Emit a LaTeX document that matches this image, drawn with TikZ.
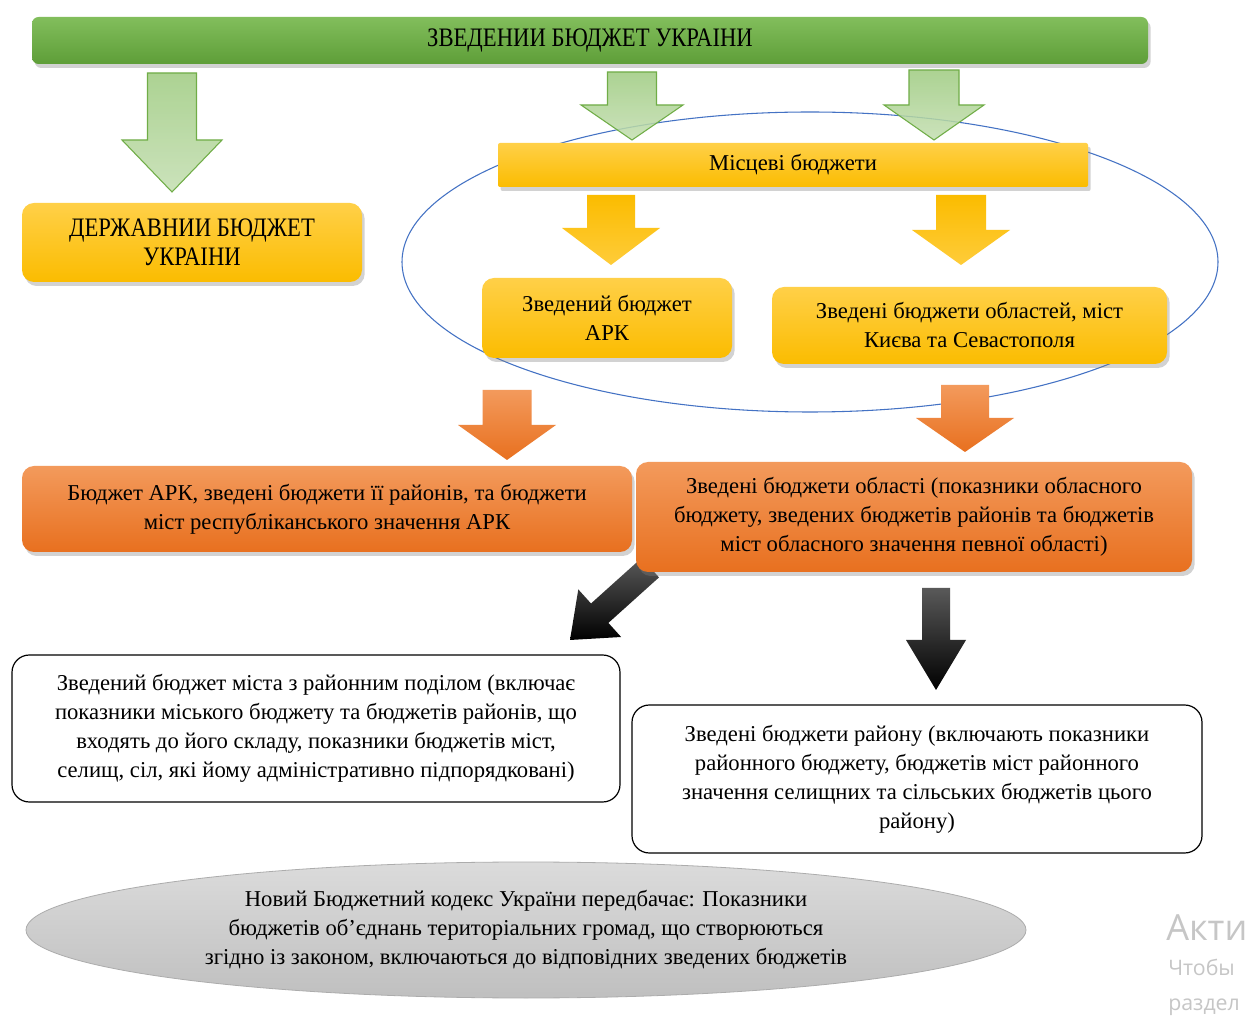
\documentclass[tikz,border=0pt]{standalone}
\usepackage{fontspec}
\setmainfont{Liberation Serif}
\newfontfamily\capsfont[FakeStretch=0.85]{Liberation Serif}
\newfontfamily\wmfont{Open Sans}
\usetikzlibrary{shadows,shapes.geometric}
\definecolor{gTop}{HTML}{82BE5C}
\definecolor{gBot}{HTML}{5E9E38}
\definecolor{gEdge}{HTML}{70AD47}
\definecolor{gA}{HTML}{9ECB80}
\definecolor{gB}{HTML}{C3DEB0}
\definecolor{yTop}{HTML}{FFD048}
\definecolor{yBot}{HTML}{FBBC00}
\definecolor{oTop}{HTML}{F39A5C}
\definecolor{oBot}{HTML}{E8701F}
\definecolor{blueE}{HTML}{4472C4}
\newcommand\bdfont{\fontsize{17}{21.75}\selectfont}
\newcommand\blkarrow[7]{\path[#7] ({#1-#5},#2) -- ({#1+#5},#2) -- ({#1+#5},#3) -- ({#1+#6},#3) -- (#1,#4) -- ({#1-#6},#3) -- ({#1-#5},#3) -- cycle;}
\begin{document}
\begin{tikzpicture}[x=0.75pt,y=-0.75pt,
  shad/.style={drop shadow={opacity=0.35, shadow xshift=2pt, shadow yshift=-3pt}},
  box/.style={rounded corners=9pt, align=center, font=\bdfont, inner sep=0pt, shad},
  ybox/.style={box, top color=yTop, bottom color=yBot},
  obox/.style={box, top color=oTop, bottom color=oBot},
  wbox/.style={rounded corners=13pt, draw=black, line width=0.9pt, fill=white, align=center, font=\bdfont, inner sep=0pt},
  garrow/.style={draw=gEdge, line width=0.8pt, top color=gA, bottom color=gB, fill opacity=0.85},
  yarrow/.style={top color=yBot, bottom color=yTop!80!yBot},
  oarrow/.style={top color=oTop, bottom color=oBot},
  karrow/.style={top color=black!65, bottom color=black},
]
\useasboundingbox (0,0) rectangle (1258,1019);
\fill[white] (0,0) rectangle (1258,1019);

% local budgets ellipse
\node[ellipse, draw=blueE, line width=0.8pt, minimum width=612pt, minimum height=225pt, inner sep=0pt] (loc) at (810,262) {};

% black arrows (behind boxes)
\path[karrow] (659,577.4) -- (608.4,622.9) -- (621.1,637) -- (570,640) -- (578.3,589.4) -- (591,603.5) -- (641.6,558) -- cycle;
\blkarrow{936}{588}{640}{690}{14}{30}{karrow}

% green arrows
\blkarrow{172}{73}{140}{192}{24.5}{50}{garrow}
\blkarrow{632}{72}{105}{140}{24.5}{51}{garrow}
\blkarrow{934}{70}{105}{140}{25}{50}{garrow}

% top bar
\node[rounded corners=5pt, top color=gTop, bottom color=gBot, shad, minimum width=837pt, minimum height=35.25pt, inner sep=0pt] (top) at (590,40.5) {\capsfont\fontsize{20}{24}\selectfont ЗВЕДЕНИИ БЮДЖЕТ УКРАІНИ};

% yellow boxes
\node[ybox, minimum width=255pt, minimum height=59.25pt] (state) at (192,242.5) {\capsfont\fontsize{20}{22}\selectfont ДЕРЖАВНИИ БЮДЖЕТ\\[0pt]\capsfont\fontsize{20}{22}\selectfont УКРАІНИ};
\node[box, rounded corners=1.5pt, top color=yTop, bottom color=yBot, minimum width=442.5pt, minimum height=33pt] (local) at (793,165) {Місцеві бюджети};

\blkarrow{611}{195}{228}{265}{24}{49}{yarrow}
\blkarrow{961}{195}{230}{265}{25}{49}{yarrow}

\node[ybox, minimum width=187.5pt, minimum height=60pt] (ark) at (607,318) {Зведений бюджет\\АРК};
\node[ybox, minimum width=296.25pt, minimum height=57.75pt] (obl) at (969.5,325.5) {Зведені бюджети областей, міст\\Києва та Севастополя};

% orange arrows
\blkarrow{507}{390}{425}{460}{24.5}{49}{oarrow}
\blkarrow{965}{385}{418}{452}{24}{49}{oarrow}

\node[obox, minimum width=457.5pt, minimum height=64.5pt] (arkall) at (327,509) {Бюджет АРК, зведені бюджети її районів, та бюджети\\міст республіканського значення АРК};
\node[obox, minimum width=417pt, minimum height=82.5pt] (oblall) at (914,517) {Зведені бюджети області (показники обласного\\бюджету, зведених бюджетів районів та бюджетів\\міст обласного значення певної області)};

% white boxes
\node[wbox, minimum width=456pt, minimum height=110.25pt] (city) at (316,728.5) {Зведений бюджет міста з районним поділом (включає\\показники міського бюджету та бюджетів районів, що\\входять до його складу, показники бюджетів міст,\\селищ, сіл, які йому адміністративно підпорядковані)};
\node[wbox, minimum width=427.5pt, minimum height=111pt] (rayon) at (917,779) {Зведені бюджети району (включають показники\\районного бюджету, бюджетів міст районного\\значення селищних та сільських бюджетів цього\\району)};

% note ellipse
\node[ellipse, draw=gray!65, line width=0.6pt, top color=gray!28, bottom color=gray!50, minimum width=750pt, minimum height=102pt, inner sep=0pt, align=center, font=\bdfont] (note) at (526,930) {Новий Бюджетний кодекс України передбачає: Показники\\бюджетів об'єднань територіальних громад, що створюються\\згідно із законом, включаються до відповідних зведених бюджетів};

% activation watermark
\node[anchor=base west, inner sep=0pt, text=gray!45, font=\wmfont\fontsize{27}{30}\selectfont] (w1) at (1166,940) {Акти};
\node[anchor=base west, inner sep=0pt, text=gray!45, font=\wmfont\fontsize{16}{18}\selectfont] (w2) at (1168,975) {Чтобы};
\node[anchor=base west, inner sep=0pt, text=gray!45, font=\wmfont\fontsize{16}{18}\selectfont] (w3) at (1168,1010) {раздел};
\end{tikzpicture}
\end{document}
